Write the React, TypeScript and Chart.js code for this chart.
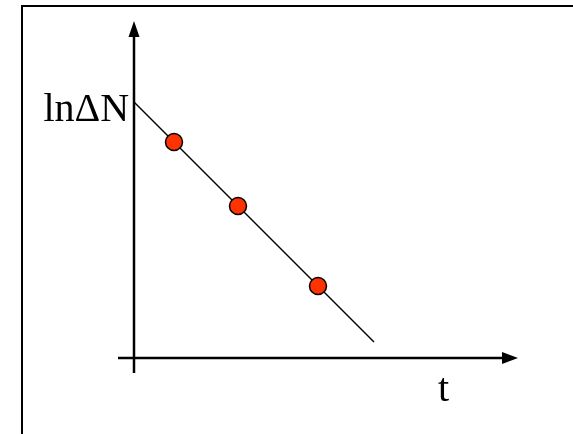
import React, { useEffect, useRef } from "react";
import { Chart, registerables } from "chart.js";

Chart.register(...registerables);

// Measured points: time vs. log of count difference
const tValues = [1.0, 2.6, 4.6];
const lnValues = [5.4, 3.8, 1.8];

// Fitted straight line (slope -1)
const fitT = [0, 6.0];
const fitLn = [6.4, 0.4];

// Axis extents (start, arrow tip)
const tAxisRange = [-0.4, 9.6];
const lnAxisRange = [-0.375, 8.425];

const yAxisLabel = "lnΔN";
const xAxisLabel = "t";

const ARROW_LEN = 0.4;

const framePlugin = {
  id: "frame",
  beforeDraw(chart: any) {
    const { ctx } = chart;
    const w = ctx.canvas.width;
    const h = ctx.canvas.height;
    ctx.save();
    ctx.fillStyle = "#ffffff";
    ctx.fillRect(0, 0, w, h);
    ctx.strokeStyle = "#000000";
    ctx.lineWidth = 2;
    ctx.beginPath();
    ctx.moveTo(22, h + 5);
    ctx.lineTo(22, 6);
    ctx.lineTo(w + 5, 6);
    ctx.stroke();
    ctx.restore();
  },
};

const axisDecorPlugin = {
  id: "axisDecor",
  afterDatasetsDraw(chart: any) {
    const { ctx } = chart;
    const xs = chart.scales.x;
    const ys = chart.scales.y;
    ctx.save();
    ctx.fillStyle = "#000000";

    // arrowhead on the vertical axis
    const vx = xs.getPixelForValue(0);
    const vTip = ys.getPixelForValue(lnAxisRange[1]);
    const vBase = ys.getPixelForValue(lnAxisRange[1] - ARROW_LEN);
    ctx.beginPath();
    ctx.moveTo(vx, vTip);
    ctx.lineTo(vx - 5.5, vBase);
    ctx.lineTo(vx + 5.5, vBase);
    ctx.closePath();
    ctx.fill();

    // arrowhead on the horizontal axis
    const hy = ys.getPixelForValue(0);
    const hTip = xs.getPixelForValue(tAxisRange[1]);
    const hBase = xs.getPixelForValue(tAxisRange[1] - ARROW_LEN);
    ctx.beginPath();
    ctx.moveTo(hTip, hy);
    ctx.lineTo(hBase, hy - 6);
    ctx.lineTo(hBase, hy + 6);
    ctx.closePath();
    ctx.fill();

    // axis labels
    ctx.font = '40px "Liberation Serif", "Times New Roman", serif';
    ctx.textBaseline = "alphabetic";
    ctx.textAlign = "right";
    ctx.fillText(yAxisLabel, xs.getPixelForValue(-0.12), ys.getPixelForValue(5.925));
    ctx.textAlign = "center";
    ctx.fillText(xAxisLabel, xs.getPixelForValue(7.74), ys.getPixelForValue(-1.075));
    ctx.restore();
  },
};

export default function App() {
  const canvasRef = useRef<HTMLCanvasElement | null>(null);

  useEffect(() => {
    if (!canvasRef.current) return;
    const chart = new Chart(canvasRef.current, {
      type: "scatter",
      data: {
        datasets: [
          {
            label: "measured",
            data: tValues.map((t, i) => ({ x: t, y: lnValues[i] })),
            backgroundColor: "#FF3300",
            borderColor: "#000000",
            borderWidth: 1.5,
            pointRadius: 8.5,
            order: 0,
          },
          {
            label: "fit",
            data: fitT.map((t, i) => ({ x: t, y: fitLn[i] })),
            showLine: true,
            borderColor: "#000000",
            borderWidth: 1.5,
            pointRadius: 0,
            order: 1,
          },
          {
            label: "t axis",
            data: [
              { x: tAxisRange[0], y: 0 },
              { x: tAxisRange[1] - ARROW_LEN, y: 0 },
            ],
            showLine: true,
            borderColor: "#000000",
            borderWidth: 2.5,
            pointRadius: 0,
            order: 2,
          },
          {
            label: "ln axis",
            data: [
              { x: 0, y: lnAxisRange[0] },
              { x: 0, y: lnAxisRange[1] - ARROW_LEN },
            ],
            showLine: true,
            borderColor: "#000000",
            borderWidth: 2.5,
            pointRadius: 0,
            order: 2,
          },
        ],
      },
      options: {
        animation: false,
        responsive: false,
        events: [],
        layout: { padding: 0, autoPadding: false },
        plugins: {
          legend: { display: false },
          tooltip: { enabled: false },
          title: { display: false },
        },
        scales: {
          x: { type: "linear", display: false, min: -3.35, max: 10.975 },
          y: { type: "linear", display: false, min: -1.9, max: 8.95 },
        },
      },
      plugins: [framePlugin, axisDecorPlugin],
    });
    return () => chart.destroy();
  }, []);

  return (
    <div style={{ position: "fixed", left: 0, top: 0, width: 573, height: 434, background: "#fff" }}>
      <canvas ref={canvasRef} width={573} height={434} style={{ display: "block" }} />
    </div>
  );
}
